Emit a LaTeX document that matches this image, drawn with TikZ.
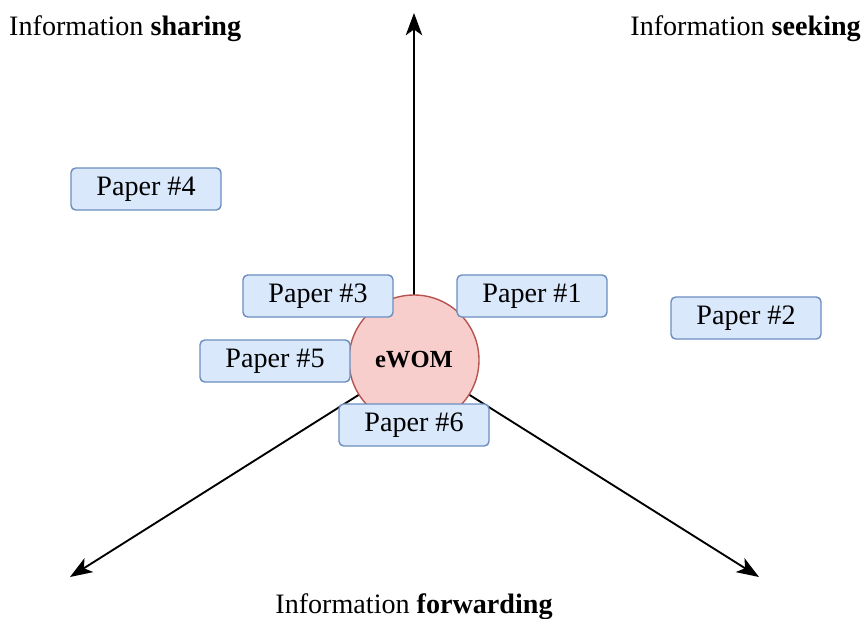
\documentclass[tikz,border=0pt]{standalone}
\usepackage{fontspec}
\setmainfont{Liberation Serif}
\usetikzlibrary{arrows.meta}
\definecolor{paperfill}{HTML}{DAE8FC}
\definecolor{paperline}{HTML}{6C8EBF}
\definecolor{corefill}{HTML}{F8CECC}
\definecolor{coreline}{HTML}{B85450}
\tikzset{
  paper/.style={draw=paperline, fill=paperfill, line width=1.2pt, rounded corners=4pt,
    minimum width=150*0.03cm, minimum height=42*0.03cm, inner sep=0pt,
    font=\fontsize{24}{26}\selectfont},
  core/.style={circle, draw=coreline, fill=corefill, line width=1.2pt,
    minimum size=130*0.03cm, inner sep=0pt, font=\fontsize{21}{23}\selectfont\bfseries},
  axis/.style={line width=1.6pt, -{Stealth[length=19pt, width=14pt, inset=5pt]}},
  label/.style={font=\fontsize{24}{26}\selectfont, inner sep=0pt}
}
\begin{document}
\begin{tikzpicture}[x=0.03cm, y=-0.03cm]
  \useasboundingbox (0,0) rectangle (862,619);
  % axis ends
  \coordinate (c) at (414,360);
  \coordinate (up) at (414,13);
  \coordinate (dl) at (70,577);
  \coordinate (dr) at (759,577);
  \draw[axis] (c) -- (up);
  \draw[axis] (c) -- (dl);
  \draw[axis] (c) -- (dr);
  % centre
  \node[core] (ewom) at (c) {eWOM};
  % papers
  \node[paper] (p4) at (146,189) {Paper \#4};
  \node[paper] (p3) at (318,296) {Paper \#3};
  \node[paper] (p1) at (532,296) {Paper \#1};
  \node[paper] (p2) at (746,318) {Paper \#2};
  \node[paper] (p5) at (275,361) {Paper \#5};
  \node[paper] (p6) at (414,425) {Paper \#6};
  % axis labels
  \node[label, anchor=west] (share) at (9,29) {Information \textbf{sharing}};
  \node[label, anchor=east] (seek) at (861,29) {Information \textbf{seeking}};
  \node[label] (fwd) at (414,607) {Information \textbf{forwarding}};
\end{tikzpicture}
\end{document}
